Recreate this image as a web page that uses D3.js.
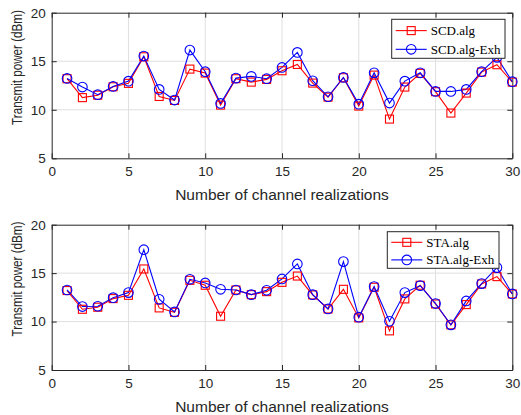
<!DOCTYPE html>
<html><head><meta charset="utf-8">
<script src="https://cdn.jsdelivr.net/npm/d3@7"></script>
<style>body{margin:0;background:#fff}svg{display:block}</style>
</head><body>
<svg id="c" width="521" height="415"></svg>
<script>
const xValues = d3.range(1, 31);
const xTicks = [0, 5, 10, 15, 20, 25, 30];
const yTicks = [5, 10, 15, 20];

const scdAlg = [13.2,11.25,11.5,12.37,12.72,15.46,11.37,10.96,14.19,13.78,10.48,13.2,12.85,13.13,14.02,14.67,12.75,11.3,13.3,10.38,13.57,9.04,12.34,13.75,11.86,9.66,11.72,13.88,14.64,12.85];
const scdExh = [13.23,12.34,11.55,12.4,12.95,15.53,12.1,11.0,16.15,13.92,10.65,13.26,13.44,13.2,14.36,15.91,12.99,11.34,13.33,10.58,13.81,10.69,12.95,13.81,11.89,11.89,12.1,13.92,15.4,12.89];
const staAlg = [13.2,11.27,11.48,12.37,12.71,15.43,11.41,10.96,14.26,13.75,10.55,13.26,12.78,13.09,14.05,14.7,12.75,11.3,13.33,10.38,13.54,9.04,12.34,13.75,11.82,9.66,11.75,13.88,14.64,12.85];
const staExh = [13.26,11.55,11.58,12.47,12.99,17.42,12.3,11.0,14.36,13.99,13.33,13.26,12.78,13.23,14.4,15.95,12.78,11.3,16.19,10.45,13.61,10.03,12.99,13.71,11.86,9.66,12.13,13.92,15.57,12.85];

const panels = [
  {top: 12.7, bottom: 158.3, xlabY: 200, ylabY: 67.5, names: ["SCD.alg","SCD.alg-Exh"], a: scdAlg, b: scdExh, leg: {x: 391.7, y: 19.3, w: 113.3, h: 39}},
  {top: 224.7, bottom: 370, xlabY: 412, ylabY: 279, names: ["STA.alg","STA.alg-Exh"], a: staAlg, b: staExh, leg: {x: 387.3, y: 231.7, w: 111.7, h: 36.6}}
];
const L = 51.7, R = 512.3;
const svg = d3.select("#c");
const axisCol = "#262626";
const RED = "#ff0000", BLUE = "#0000ff";
const SANS = "Liberation Sans, Arial, sans-serif";

panels.forEach(p => {
  const x = d3.scaleLinear().domain([0, 30]).range([L, R]);
  const y = d3.scaleLinear().domain([5, 20]).range([p.bottom, p.top]);
  const g = svg.append("g");
  g.selectAll(".gx").data(xTicks.slice(1, -1)).enter().append("line")
    .attr("x1", d => x(d)).attr("x2", d => x(d)).attr("y1", p.top).attr("y2", p.bottom)
    .attr("stroke", "#dfdfdf").attr("stroke-width", 1);
  g.selectAll(".gy").data(yTicks.slice(1, -1)).enter().append("line")
    .attr("y1", d => y(d)).attr("y2", d => y(d)).attr("x1", L).attr("x2", R)
    .attr("stroke", "#dfdfdf").attr("stroke-width", 1);
  const xa = d3.axisBottom(x).tickValues(xTicks).tickSizeInner(-5).tickSizeOuter(0).tickPadding(8);
  const ya = d3.axisLeft(y).tickValues(yTicks).tickSizeInner(-5).tickSizeOuter(0).tickPadding(6);
  const xg = g.append("g").attr("transform", `translate(0,${p.bottom})`).call(xa);
  const yg = g.append("g").attr("transform", `translate(${L},0)`).call(ya);
  const xt = g.append("g").attr("transform", `translate(0,${p.top})`).call(d3.axisTop(x).tickValues(xTicks).tickSizeInner(-5).tickSizeOuter(0).tickFormat(""));
  const yr = g.append("g").attr("transform", `translate(${R},0)`).call(d3.axisRight(y).tickValues(yTicks).tickSizeInner(-5).tickSizeOuter(0).tickFormat(""));
  [xg, yg, xt, yr].forEach(a => {
    a.select(".domain").attr("stroke", axisCol).attr("stroke-width", 1);
    a.selectAll(".tick line").attr("stroke", axisCol);
    a.selectAll("text").attr("fill", axisCol).attr("font-family", SANS).attr("font-size", 13.5);
  });
  g.append("text").attr("x", (L + R) / 2).attr("y", p.xlabY).attr("text-anchor", "middle")
    .attr("font-family", SANS).attr("font-size", 15.5).attr("fill", axisCol)
    .text("Number of channel realizations");
  const yl = g.append("text").attr("text-anchor", "middle")
    .attr("font-family", SANS).attr("font-size", 15).attr("fill", axisCol)
    .text("Transmit power (dBm)");
  const len = yl.node().getComputedTextLength() || 148;
  const s = 115 / len;
  yl.attr("transform", `translate(22,${p.ylabY}) rotate(-90) scale(${s},1)`);
  const line = d3.line().x((d, i) => x(xValues[i])).y(d => y(d));
  g.append("path").datum(p.a).attr("d", line).attr("fill", "none").attr("stroke", RED).attr("stroke-width", 1.1);
  g.append("path").datum(p.b).attr("d", line).attr("fill", "none").attr("stroke", BLUE).attr("stroke-width", 1.1);
  g.selectAll(".sq").data(p.a).enter().append("rect")
    .attr("x", (d, i) => x(xValues[i]) - 4).attr("y", d => y(d) - 4).attr("width", 8).attr("height", 8)
    .attr("fill", "none").attr("stroke", RED).attr("stroke-width", 1.1);
  g.selectAll(".ci").data(p.b).enter().append("circle")
    .attr("cx", (d, i) => x(xValues[i])).attr("cy", d => y(d)).attr("r", 4.8)
    .attr("fill", "none").attr("stroke", BLUE).attr("stroke-width", 1.1);
  const lg = g.append("g");
  lg.append("rect").attr("x", p.leg.x).attr("y", p.leg.y).attr("width", p.leg.w).attr("height", p.leg.h)
    .attr("fill", "#fff").attr("stroke", axisCol).attr("stroke-width", 1);
  [[RED, "sq", p.names[0]], [BLUE, "ci", p.names[1]]].forEach((e, k) => {
    const cy = p.leg.y + p.leg.h * (0.29 + k * 0.48);
    const x0 = p.leg.x + 4, x1 = p.leg.x + 35;
    lg.append("line").attr("x1", x0).attr("x2", x1).attr("y1", cy).attr("y2", cy).attr("stroke", e[0]).attr("stroke-width", 1.1);
    if (e[1] === "sq") lg.append("rect").attr("x", (x0 + x1) / 2 - 4).attr("y", cy - 4).attr("width", 8).attr("height", 8).attr("fill", "none").attr("stroke", e[0]).attr("stroke-width", 1.1);
    else lg.append("circle").attr("cx", (x0 + x1) / 2).attr("cy", cy).attr("r", 4.8).attr("fill", "none").attr("stroke", e[0]).attr("stroke-width", 1.1);
    lg.append("text").attr("x", x1 + 4).attr("y", cy + 4.5).attr("font-family", "Liberation Serif, Times New Roman, serif")
      .attr("font-size", 13).attr("fill", "#000").text(e[2]);
  });
});
</script>
</body></html>
